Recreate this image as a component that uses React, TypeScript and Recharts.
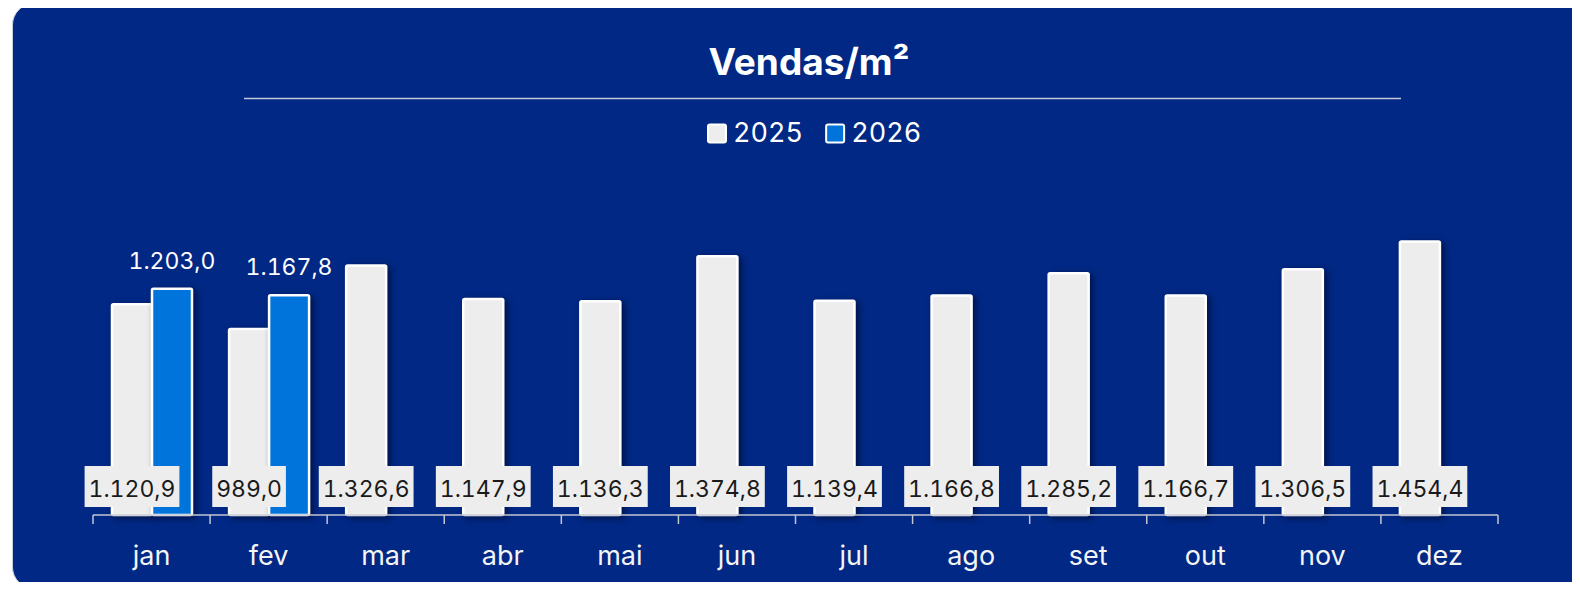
import React from "react";
import { BarChart, Bar, XAxis, YAxis, LabelList } from "recharts";

const months = ["jan", "fev", "mar", "abr", "mai", "jun", "jul", "ago", "set", "out", "nov", "dez"];
const sales2025 = [1120.9, 989.0, 1326.6, 1147.9, 1136.3, 1374.8, 1139.4, 1166.8, 1285.2, 1166.7, 1306.5, 1454.4];
const sales2026: (number | null)[] = [1203.0, 1167.8, null, null, null, null, null, null, null, null, null, null];
const seriesNames = ["2025", "2026"];
const yDomain = [0, 1600];

const data = months.map((m, i) => ({ month: m, y2025: sales2025[i], y2026: sales2026[i] }));

const W = 1580;
const H = 590;
const BG = "#002884";
const GREY = "#ededed";
const BLUE = "#0074db";
const AXIS = "#c3c6d2";
const FONT = "Inter, 'Noto Sans', sans-serif";
const MARGIN = { top: 214, right: 82, bottom: 30, left: 93 };
const X_AXIS_H = 45;
const HALF_BAND = (W - MARGIN.left - MARGIN.right) / months.length / 2;
const TNUM = { fontFeatureSettings: "'tnum'", fontVariantNumeric: "tabular-nums" } as React.CSSProperties;

// pt-BR number format: 1.120,9
const fmt = (v: number) => {
  const [i, d] = v.toFixed(1).split(".");
  return i.replace(/\B(?=(\d{3})+(?!\d))/g, ".") + "," + d;
};

let ctx: CanvasRenderingContext2D | null = null;
const measure = (text: string, font: string) => {
  if (!ctx) ctx = document.createElement("canvas").getContext("2d");
  if (!ctx) return text.length * 12;
  ctx.font = font;
  return ctx.measureText(text).width;
};

// tabular digits all take the width of "0"
const measureNum = (text: string, font: string) => {
  const digits = text.replace(/[^0-9]/g, "").length;
  const rest = text.replace(/[0-9]/g, "");
  return digits * measure("0", font) + measure(rest, font);
};

const box = (p: any) => {
  const vb = p.viewBox || {};
  return {
    x: p.x ?? vb.x,
    y: p.y ?? vb.y,
    width: p.width ?? vb.width,
    height: p.height ?? vb.height,
  };
};

const BarShape = (props: any) => {
  const { x, y, width, height, fill } = props;
  if (!height || height <= 0) return null;
  return (
    <rect
      x={x}
      y={y}
      width={width}
      height={height}
      fill={fill}
      stroke="#ffffff"
      strokeWidth={2.5}
      rx={1.5}
      style={{ filter: "drop-shadow(3px 2px 3px rgba(0,0,20,0.55))" }}
    />
  );
};

// 2025 labels: grey box sitting on the base of the bar
const BaseLabel = (props: any) => {
  const { value } = props;
  if (value == null) return null;
  const b = box(props);
  const text = fmt(Number(value));
  const w = measureNum(text, `23px ${FONT}`) + 9;
  const cx = b.x + b.width / 2;
  const base = b.y + b.height;
  return (
    <g>
      <rect x={cx - w / 2} y={base - 49} width={w} height={41} fill={GREY} />
      <text x={cx} y={base - 18} textAnchor="middle" fontSize={23} fontFamily={FONT} fill="#1a1a1a" style={TNUM}>
        {text}
      </text>
    </g>
  );
};

// 2026 labels: white text above the bar
const TopLabel = (props: any) => {
  const { value } = props;
  if (value == null) return null;
  const b = box(props);
  return (
    <text x={b.x + b.width / 2} y={b.y - 20} textAnchor="middle" fontSize={23} fontFamily={FONT} fill="#ffffff" style={TNUM}>
      {fmt(Number(value))}
    </text>
  );
};

const MonthTick = (props: any) => {
  const { x, y, payload, index } = props;
  return (
    <g>
      <line x1={x - HALF_BAND} x2={x - HALF_BAND} y1={y} y2={y + 9} stroke={AXIS} strokeWidth={1.5} />
      {index === months.length - 1 && (
        <line x1={x + HALF_BAND} x2={x + HALF_BAND} y1={y} y2={y + 9} stroke={AXIS} strokeWidth={1.5} />
      )}
      <text x={x} y={y + 50} textAnchor="middle" fontSize={27} fontFamily={FONT} fill="#f4f4f4">
        {payload.value}
      </text>
    </g>
  );
};

export default function App() {
  const legendFont = `27px ${FONT}`;
  let lx = 707;
  const legendItems = seriesNames.map((name, i) => {
    const item = { name, x: lx, color: i === 0 ? GREY : BLUE };
    lx += 26 + measureNum(name, legendFont) + 24;
    return item;
  });

  return (
    <div style={{ position: "relative", width: W, height: H, margin: -8, overflow: "hidden", background: "#fff" }}>
      <div
        style={{
          position: "absolute",
          left: 12,
          top: 3,
          width: 1620,
          height: 584,
          background: BG,
          borderRadius: 22,
          border: "1px solid #c8ccd6",
        }}
      />
      <svg width={W} height={H} style={{ position: "absolute", left: 0, top: 0 }}>
        <text x={809} y={75} textAnchor="middle" fontSize={37} fontWeight={700} fontFamily={FONT} fill="#ffffff">
          Vendas/m²
        </text>
        <line x1={244} x2={1401} y1={98.5} y2={98.5} stroke="#c5c8d8" strokeWidth={1.5} />
        {legendItems.map((it) => (
          <g key={it.name}>
            <rect x={it.x + 1} y={124.5} width={18} height={18} fill={it.color} stroke="#ffffff" strokeWidth={2} rx={2} />
            <text x={it.x + 26} y={141.7} fontSize={27} fontFamily={FONT} fill="#ffffff" style={TNUM}>
              {it.name}
            </text>
          </g>
        ))}
      </svg>
      <div style={{ position: "absolute", left: 0, top: 0 }}>
        <BarChart width={W} height={H} data={data} margin={MARGIN} barSize={40} barGap={0}>
          <XAxis
            dataKey="month"
            height={X_AXIS_H}
            interval={0}
            tickLine={false}
            tickSize={0}
            tickMargin={0}
            axisLine={{ stroke: AXIS, strokeWidth: 1.5 }}
            tick={<MonthTick />}
          />
          <YAxis hide domain={yDomain} />
          <Bar dataKey="y2025" name={seriesNames[0]} fill={GREY} shape={<BarShape />} isAnimationActive={false}>
            <LabelList dataKey="y2025" content={<BaseLabel />} />
          </Bar>
          <Bar dataKey="y2026" name={seriesNames[1]} fill={BLUE} shape={<BarShape />} isAnimationActive={false}>
            <LabelList dataKey="y2026" content={<TopLabel />} />
          </Bar>
        </BarChart>
      </div>
    </div>
  );
}
